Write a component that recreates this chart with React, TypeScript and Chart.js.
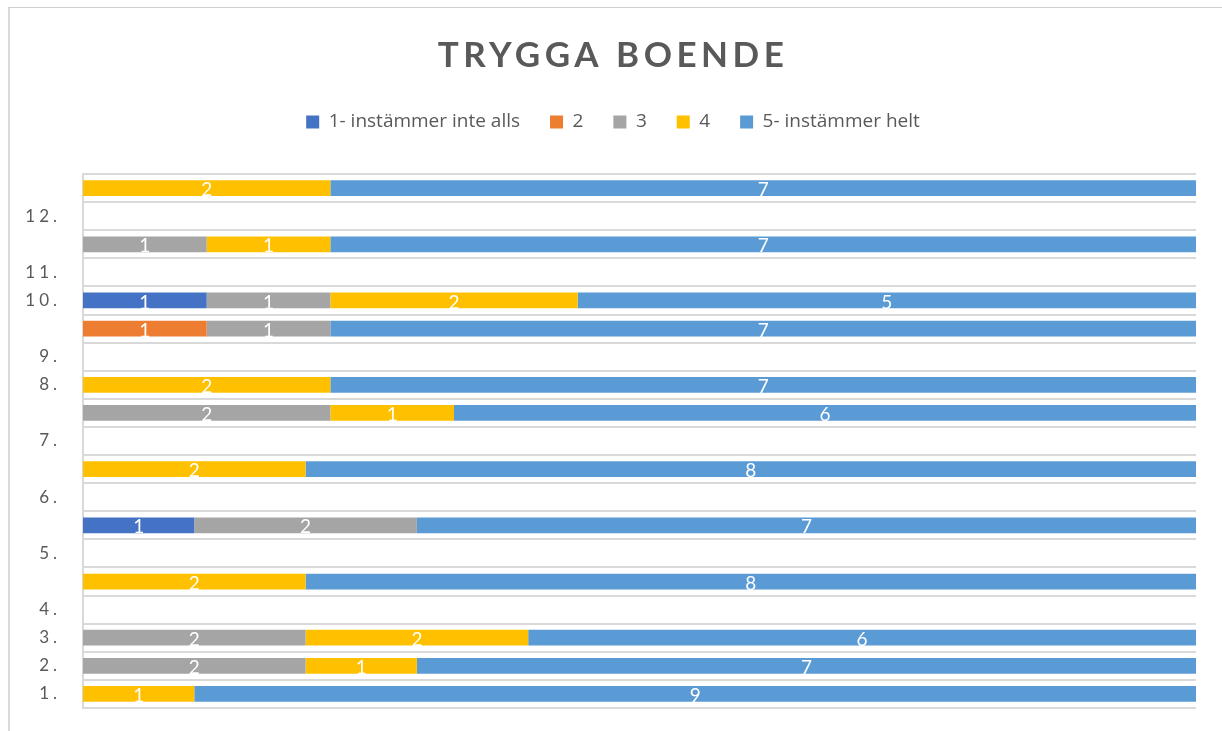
import React, { useEffect, useRef } from "react";
import { Chart, registerables } from "chart.js";

Chart.register(...registerables);

const categories = ["", "12.", "", "11.", "10.", "", "9.", "8.", "", "7.", "", "6.", "", "5.", "", "4.", "3.", "2.", "1."];
const seriesNames = ["1- instämmer inte alls", "2", "3", "4", "5- instämmer helt"];
const series1 = [0, 0, 0, 0, 1, 0, 0, 0, 0, 0, 0, 0, 1, 0, 0, 0, 0, 0, 0];
const series2 = [0, 0, 0, 0, 0, 1, 0, 0, 0, 0, 0, 0, 0, 0, 0, 0, 0, 0, 0];
const series3 = [0, 0, 1, 0, 1, 1, 0, 0, 2, 0, 0, 0, 2, 0, 0, 0, 2, 2, 0];
const series4 = [2, 0, 1, 0, 2, 0, 0, 2, 1, 0, 2, 0, 0, 0, 2, 0, 2, 1, 1];
const series5 = [7, 0, 7, 0, 5, 7, 0, 7, 6, 0, 8, 0, 7, 0, 8, 0, 6, 7, 9];
const colors = ["#4472C4", "#ED7D31", "#A5A5A5", "#FFC000", "#5B9BD5"];

const FONT = "Lato";

function patchSpacing(obj: any, method: string, spacing: string) {
  if (!obj || obj["__sp_" + method]) return;
  const orig = obj[method];
  obj[method] = function (...args: any[]) {
    const ctx = this.ctx as any;
    const prev = ctx.letterSpacing;
    ctx.letterSpacing = spacing;
    try {
      return orig.apply(this, args);
    } finally {
      ctx.letterSpacing = prev;
    }
  };
  obj["__sp_" + method] = true;
}

const spacingPlugin = {
  id: "spacingPlugin",
  beforeDraw(chart: any) {
    patchSpacing(chart.titleBlock, "draw", "4.5px");
    const y = chart.scales.y;
    if (y) {
      patchSpacing(y, "drawLabels", "4px");
      y._computeLabelArea = () => undefined;
    }
  },
};

const counts = [series1, series2, series3, series4, series5];

const labelsPlugin = {
  id: "segmentLabels",
  afterDatasetsDraw(chart: any) {
    const ctx = chart.ctx;
    ctx.save();
    ctx.fillStyle = "#ffffff";
    ctx.font = `19px ${FONT}`;
    ctx.textAlign = "center";
    ctx.textBaseline = "middle";
    counts.forEach((s, i) => {
      const meta = chart.getDatasetMeta(i);
      meta.data.forEach((bar: any, j: number) => {
        const v = s[j];
        if (!v) return;
        const { x, base, y } = bar.getProps(["x", "base", "y"], true);
        ctx.fillText(String(v), (x + base) / 2, y + 2);
      });
    });
    ctx.restore();
  },
};

export default function App() {
  const ref = useRef<HTMLCanvasElement>(null);
  useEffect(() => {
    const totals = categories.map((_, j) => counts.reduce((a, s) => a + s[j], 0));
    const chart = new Chart(ref.current as HTMLCanvasElement, {
      type: "bar",
      data: {
        labels: categories,
        datasets: counts.map((s, i) => ({
          label: seriesNames[i],
          data: s.map((v, j) => (totals[j] ? (v / totals[j]) * 100 : 0)),
          backgroundColor: colors[i],
          borderWidth: 0,
          barPercentage: 0.56,
          categoryPercentage: 1,
        })),
      },
      options: {
        indexAxis: "y",
        responsive: false,
        animation: false,
        devicePixelRatio: 1,
        layout: { padding: { left: 30, right: 26, top: 0, bottom: 23 } },
        scales: {
          x: {
            type: "linear",
            position: "top",
            stacked: true,
            min: 0,
            max: 100,
            ticks: { display: false },
            grid: { display: false },
            border: { display: false },
            afterFit: (s: any) => {
              s.height = 32.5;
            },
          },
          y: {
            type: "category",
            stacked: true,
            offset: true,
            grid: { color: "#d9d9d9", lineWidth: 2, drawTicks: false, offset: true },
            border: { display: true, color: "#d9d9d9", width: 2 },
            ticks: { color: "#595959", font: { family: FONT, size: 17 }, padding: 22, autoSkip: false },
            afterFit: (s: any) => {
              s.width = 53;
              s.paddingTop = 0;
              s.paddingBottom = 0;
            },
          },
        },
        plugins: {
          title: {
            display: true,
            text: "TRYGGA BOENDE",
            color: "#595959",
            font: { family: FONT, size: 35, weight: "bold", lineHeight: 1.2 },
            padding: { top: 35, bottom: 5.5 },
          },
          legend: {
            display: true,
            position: "top",
            labels: {
              color: "#595959",
              font: { family: "Open Sans", size: 19 },
              boxWidth: 13,
              boxHeight: 13,
              padding: 30,
            },
          },
          tooltip: { enabled: false },
        },
      },
      plugins: [spacingPlugin, labelsPlugin],
    } as any);
    return () => chart.destroy();
  }, []);

  return (
    <>
      <div
        style={{
          position: "fixed",
          left: 8,
          top: 7,
          width: 1400,
          height: 900,
          borderTop: "1px solid #d0d0d0",
          borderLeft: "2px solid #d9d9d9",
          boxSizing: "border-box",
        }}
      />
      <div style={{ position: "fixed", left: 0, top: 0, width: 1222, height: 731 }}>
        <canvas ref={ref} width={1222} height={731} style={{ display: "block" }} />
      </div>
    </>
  );
}
